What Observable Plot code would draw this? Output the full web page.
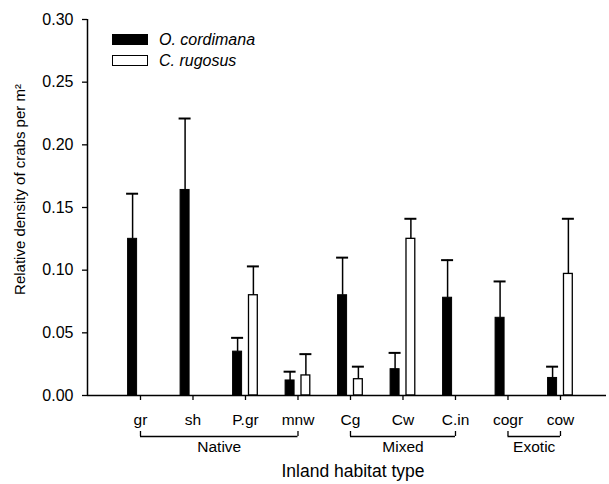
<!DOCTYPE html>
<html>
<head>
<meta charset="utf-8">
<script src="https://cdn.jsdelivr.net/npm/d3@7"></script>
<script src="https://cdn.jsdelivr.net/npm/@observablehq/plot@0.6"></script>
<style>
  body { margin: 0; background: white; }
  #wrap { position: relative; width: 609px; height: 484px; font-family: "Liberation Sans", Arial, sans-serif; }
  #legend { position: absolute; left: 112px; top: 29px; font-size: 16px; font-style: italic; color: black; }
  .row { display: flex; align-items: center; height: 21px; }
  .sw { width: 34px; height: 9px; border: 1px solid black; margin-right: 11px; }
</style>
</head>
<body>
<div id="wrap"><div id="legend"></div></div>
<script>
// ---- data ----
const categories = ["gr", "sh", "P.gr", "mnw", "Cg", "Cw", "C.in", "cogr", "cow"];
const seriesNames = ["O. cordimana", "C. rugosus"];
const cordimanaMean = [0.125, 0.164, 0.035, 0.012, 0.080, 0.021, 0.078, 0.062, 0.014];
const cordimanaSE   = [0.036, 0.057, 0.011, 0.007, 0.030, 0.013, 0.030, 0.029, 0.009];
const rugosusMean   = [null, null, 0.080, 0.016, 0.013, 0.125, null, null, 0.097];
const rugosusSE     = [null, null, 0.023, 0.017, 0.010, 0.016, null, null, 0.044];
const groupNames = ["Native", "Mixed", "Exotic"];
const groupStart = ["gr", "Cg", "cogr"];
const groupEnd   = ["mnw", "C.in", "cow"];
const yTicks = [0, 0.05, 0.10, 0.15, 0.20, 0.25, 0.30];
const xTitle = "Inland habitat type";
const yTitle = "Relative density of crabs per m²";

// ---- layout ----
const W = 609, H = 484;
const mL = 87, mR = 3, mT = 19, mB = 89;
const padOuter = 0.443, align = 0.575;
const step = (W - mL - mR) / (categories.length + 2 * padOuter);
const half = step / 2;
const firstCenter = mL + ((W - mL - mR) - step * categories.length) * align + half;

const rowsO = categories.map((c, i) => ({habitat: c, mean: cordimanaMean[i], top: cordimanaMean[i] + cordimanaSE[i]}));
const rowsC = categories.map((c, i) => ({habitat: c, mean: rugosusMean[i], top: rugosusMean[i] == null ? null : rugosusMean[i] + rugosusSE[i]}))
  .filter(d => d.mean != null);
const groups = groupNames.map((g, i) => ({name: g, start: groupStart[i], end: groupEnd[i],
  n: categories.indexOf(groupEnd[i]) - categories.indexOf(groupStart[i])}));
const ends = groups.flatMap(g => [g.start, g.end]);

const barOff = 7.9;   // px from tick to bar centre
const barHalf = 5;    // half bar width px
const capHalf = 6;

const marks = [
  Plot.barY(rowsO, {x: "habitat", y: "mean", fill: "black", stroke: "black", strokeWidth: 1,
    insetLeft: half - barOff - barHalf + 0.5, insetRight: half + barOff - barHalf + 0.5}),
  Plot.barY(rowsC, {x: "habitat", y: "mean", fill: "white", stroke: "black", strokeWidth: 1.3,
    insetLeft: half + barOff - barHalf + 0.6, insetRight: half - barOff - barHalf + 0.6}),
  Plot.ruleX(rowsO, {x: "habitat", y1: "mean", y2: "top", dx: -barOff, strokeWidth: 1.5}),
  Plot.ruleX(rowsC, {x: "habitat", y1: "mean", y2: "top", dx: barOff, strokeWidth: 1.5}),
  Plot.tickY(rowsO, {x: "habitat", y: "top", strokeWidth: 2,
    insetLeft: half - barOff - capHalf, insetRight: half + barOff - capHalf}),
  Plot.tickY(rowsC, {x: "habitat", y: "top", strokeWidth: 2,
    insetLeft: half + barOff - capHalf, insetRight: half - barOff - capHalf}),
  // axis lines
  Plot.ruleY([0], {strokeWidth: 1.5}),
  Plot.ruleX([categories[0]], {x: d => d, y1: () => 0, y2: () => yTicks[yTicks.length - 1], dx: mL - firstCenter, strokeWidth: 1.5}),
  Plot.axisY({ticks: yTicks, tickFormat: ".2f", tickSize: 5, tickPadding: 9, fontSize: 16, label: null, strokeWidth: 1.3}),
  Plot.axisX({tickSize: 5, tickPadding: 13, fontSize: 15.5, label: null, strokeWidth: 1.3}),
  // group brackets
  Plot.ruleY(groups, {x1: "start", x2: "end", y: () => 0, dy: 41, insetLeft: half, insetRight: half, strokeWidth: 1.3}),
  Plot.ruleX(ends, {x: d => d, y1: () => 0, y2: () => 0, dy: 36, insetBottom: -5, strokeWidth: 1.3}),
  ...groups.map(g => Plot.text([g], {x: "start", y: () => 0, text: "name", dx: g.n * half, dy: 52, fontSize: 15.5})),
  Plot.text([xTitle], {frameAnchor: "bottom", textAnchor: "middle", dy: 81, dx: 6, fontSize: 17.5}),
  Plot.text([yTitle], {frameAnchor: "left", textAnchor: "middle", rotate: -90, dx: -67, dy: -18, fontSize: 15})
];

const chart = Plot.plot({
  width: W, height: H,
  marginLeft: mL, marginRight: mR, marginTop: mT, marginBottom: mB,
  x: {type: "band", domain: categories, paddingInner: 0, paddingOuter: padOuter, align: align, round: false, axis: null},
  y: {domain: [0, 0.30], axis: null},
  style: {fontFamily: "'Liberation Sans', Arial, sans-serif", fontSize: "15px", color: "black", background: "white"},
  marks
});
document.getElementById("wrap").prepend(chart);

const legend = document.getElementById("legend");
const fills = ["black", "white"];
seriesNames.forEach((s, i) => {
  const row = document.createElement("div");
  row.className = "row";
  const sw = document.createElement("div");
  sw.className = "sw";
  sw.style.background = fills[i];
  const t = document.createElement("span");
  t.textContent = s;
  row.append(sw, t);
  legend.append(row);
});
</script>
</body>
</html>
